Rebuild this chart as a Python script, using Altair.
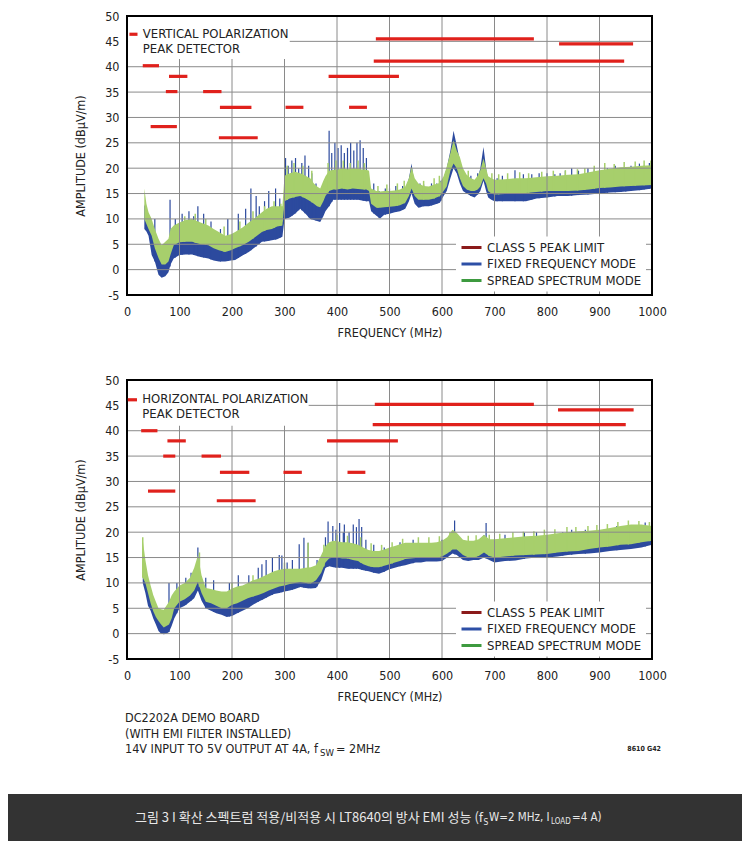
import altair as alt
import pandas as pd
import numpy as np

FONT = "Liberation Sans Narrow, DejaVu Sans Condensed, sans-serif"
KFONT = "Noto Sans CJK KR"
RED = "#e0211c"
BLUE = "#2c4a9e"
GREEN_FILL = "#a7cf6c"
GRID = "#8a8a8a"
TXT = "#222222"

legend_labels = ["CLASS 5 PEAK LIMIT", "FIXED FREQUENCY MODE", "SPREAD SPECTRUM MODE"]
legend_colors = ["#8b1a1a", "#2d4fa6", "#3d9a3f"]

x_domain = [0, 1000]
y_domain = [-5, 50]
x_ticks = list(range(0, 1001, 100))
y_ticks = list(range(-5, 51, 5))

# ---------------- top panel: vertical polarization ----------------
top_freq = [33, 37, 41, 47, 53, 60, 66, 73, 79, 83, 89, 100, 112, 124, 140, 155, 165, 175, 187, 198,
            206, 220, 232, 245, 257, 266, 276, 286, 296, 300, 310, 320, 330, 340, 349, 356, 362, 368,
            374, 378, 385, 393, 400, 410, 420, 430, 440, 450, 456, 461, 465, 475, 482, 490, 500, 510,
            520, 530, 537, 542, 548, 555, 565, 575, 585, 596, 603, 609, 616, 622, 628, 634, 640, 647,
            655, 662, 668, 673, 679, 684, 688, 694, 700, 720, 740, 760, 780, 800, 820, 840, 860, 880,
            900, 920, 940, 960, 980, 1000]
top_green_lo = [10, 9, 8, 6.7, 4.2, 2.3, 1, 1, 1.6, 3, 4.8, 5.4, 5.5, 5.5, 5, 4.8, 4.2, 3.8, 3.5, 3.8,
                4.2, 4.8, 5.5, 6.5, 7.4, 7.8, 8, 8.5, 8.7, 13.5, 14, 14.3, 14.5, 14, 13.5, 13, 12.5, 12.3,
                13.5, 14.5, 15.5, 15.8, 15.8, 16, 15.8, 16, 15.9, 15.8, 15.8, 15.5, 13, 12.2, 12.2, 12.3,
                12.4, 12.5, 12.7, 13.2, 14.5, 16, 14.5, 13.8, 13.8, 13.8, 14, 14.5, 15.5, 16.4, 19.5,
                20.9, 20, 18, 16.5, 15.8, 15.5, 15.5, 15.8, 16.4, 18, 17, 15.5, 15, 14.8, 14.9, 15, 15.1,
                15.3, 15.5, 15.5, 15.5, 15.6, 15.8, 16.1, 16.2, 16.4, 16.5, 16.6, 16.7]
top_green_hi = [16, 13, 11.3, 10, 8, 6.1, 4.8, 5.5, 6.1, 8, 8.7, 9.3, 9.8, 10, 9.3, 8.7, 8, 7.4, 6.7, 7,
                7.4, 8.3, 9.3, 10.3, 11.3, 12, 12.5, 12.5, 12.5, 18.5, 19, 19.3, 19, 18.5, 18, 17, 16.4,
                16, 17.5, 18.4, 19.5, 19.7, 19.7, 20, 19.8, 20, 19.9, 19.7, 19.7, 19.5, 16, 15.5, 15.4,
                15.5, 15.5, 15.6, 15.8, 16.4, 18, 20.3, 18, 17, 16.5, 16.4, 16.8, 17.1, 18.4, 20.3, 23,
                25.5, 23.5, 22.2, 20, 18.7, 18, 17.7, 18.5, 19.6, 21.9, 20, 18.4, 18, 17.7, 17.8, 18, 18,
                18.2, 18.4, 18.5, 18.7, 18.8, 19.2, 19.6, 19.9, 20.2, 20.3, 20.5, 20.6]
top_blue_lo = [8, 7.5, 6.7, 2.9, 1.6, -1, -1.6, -1.3, -0.5, 1, 2.2, 2.9, 3, 3, 2.5, 2.2, 1.8, 1.6, 1.6,
               1.8, 1.9, 2.8, 3.5, 4.5, 5.5, 5.6, 5.8, 6, 6.5, 10, 10.3, 11, 12, 11, 10, 9.8, 9.6, 9.4,
               10.5, 11.5, 12.5, 13.8, 13.8, 13.8, 13.8, 13.8, 13.8, 13.6, 13.5, 13.5, 11.5, 10.6, 10.1,
               10.8, 11, 11.3, 11.5, 12, 13.5, 15, 13, 12.2, 12.5, 12.5, 12.8, 13.2, 14.5, 15.5, 18, 20,
               19, 17, 15.5, 15, 14.5, 14.2, 14.8, 15.5, 17.5, 15.5, 14.2, 13.8, 13.5, 13.5, 13.5, 13.5,
               14, 14.2, 14.5, 14.5, 14.7, 14.8, 15, 15.2, 15.3, 15.5, 15.7, 16]
top_blue_hi = [12.9, 11.5, 10, 8, 6, 3.5, 2.5, 2.5, 3, 7, 7, 8, 8.5, 8.5, 8, 7.5, 6, 5, 4.5, 4.8, 5, 6,
               6.7, 7.5, 8, 8.8, 9.3, 9.3, 9.5, 16, 16.3, 16.5, 17, 16, 15, 14, 13.7, 13.3, 14.5, 15.5,
               17, 17.7, 17.7, 17.7, 17.7, 17.7, 17.7, 17.5, 17.2, 17, 14.5, 14.5, 14.3, 14.5, 14.6,
               14.8, 15, 15.5, 18, 20.9, 16.5, 15.5, 15.8, 15.8, 16, 16.5, 18, 20, 23.5, 27.4, 24.5,
               21.5, 19, 18.2, 17.5, 17, 18, 20, 24.2, 20, 17.5, 17, 17, 17.3, 17.5, 17.5, 17.8, 18,
               18.2, 18.4, 18.5, 18.8, 19, 19.3, 19.6, 19.8, 20, 20]
top_spike_freq = [53, 82, 92, 105, 118, 127, 135, 146, 160, 178, 192, 212, 226, 236, 246, 252, 262, 270,
                  283, 291, 302, 307, 314, 321, 327, 333, 339, 346, 352, 360, 385, 390, 396, 402, 408,
                  414, 420, 426, 432, 438, 444, 450, 456, 470, 480, 492, 500, 512, 525, 558, 565, 580,
                  590, 598, 655, 668, 705, 715, 739, 755, 771, 785, 800, 815, 825, 835, 847, 860, 878,
                  890, 903, 915, 930, 941, 950, 960, 976, 985, 995]
top_spike_top = [10, 13.8, 10, 11, 11.5, 10.5, 12.5, 11, 9.5, 8, 10, 11, 12, 16, 14.5, 12.5, 13.5, 15.5,
                 16, 14, 22, 20.5, 21.5, 22, 20, 21, 22.5, 20.5, 19, 17, 27.4, 23, 25, 24, 24.5, 23, 24,
                 25, 23.5, 25, 25.5, 24, 22, 17, 15.5, 16, 16, 16.5, 16.5, 17, 16.8, 17, 17, 17.5, 18.5,
                 19, 18, 18.5, 19.6, 18.8, 18.8, 19, 19, 18.8, 19, 19.5, 20, 19.5, 20, 19.8, 19.5, 20,
                 20.5, 20, 20, 20.5, 20.9, 20.5, 21]
top_gspike_freq = [110, 130, 150, 185, 215, 240, 262, 280, 293, 305, 318, 335, 352, 383, 398, 412, 425,
                   440, 452, 478, 495, 515, 528, 565, 585, 595, 650, 695, 708, 725, 748, 765, 790, 812,
                   835, 858, 872, 890, 910, 928, 947, 968, 985, 998]
top_gspike_top = [10.5, 11, 10, 8.5, 9.5, 11.5, 12.5, 13.5, 13, 20.5, 21, 20.5, 19.5, 21, 21.5, 21.5,
                  21, 21.5, 21, 16.5, 16.8, 17, 17.5, 17.5, 18, 18.5, 19.5, 19, 18.8, 19, 19.2, 19,
                  19.3, 19.5, 19.6, 19.8, 20, 20.5, 21, 20.8, 21.2, 21.3, 21.5, 21.5]
top_limit_lo = [30, 74, 80, 145, 177, 302, 423, 384, 45, 175, 470, 474, 823]
top_limit_hi = [61, 96, 115, 180, 237, 336, 457, 518, 95, 249, 947, 775, 964]
top_limit_db = [40.2, 35.1, 38.1, 35.1, 32, 32, 32, 38.1, 28.2, 26, 41.1, 45.5, 44.5]
top_note = ["VERTICAL POLARIZATION", "PEAK DETECTOR"]
top_note_x = [30, 30]
top_note_db = [46.4, 43.4]
top_dash = {"lo": [4.6], "hi": [20], "db": [46.4]}
top_box = {"lo": [2], "hi": [310], "db": [41.5], "db2": [49.8]}

# ---------------- bottom panel: horizontal polarization ----------------
bot_freq = [30, 35, 40, 45, 50, 55, 60, 65, 70, 75, 80, 85, 90, 100, 110, 120, 128, 135, 142, 150, 160,
            170, 180, 190, 200, 210, 220, 230, 240, 250, 260, 270, 280, 290, 300, 310, 320, 330, 340, 350,
            360, 370, 378, 385, 393, 400, 410, 420, 430, 440, 450, 460, 470, 480, 490, 500, 510, 520, 530,
            540, 550, 560, 570, 580, 590, 600, 610, 620, 628, 640, 650, 660, 670, 680, 690, 700, 720, 740,
            760, 780, 800, 820, 840, 860, 880, 900, 920, 940, 960, 980, 1000]
bot_green_lo = [11, 10, 8, 6, 4.4, 3.3, 2.5, 1.8, 1.2, 1.5, 1.8, 3, 5, 6.3, 6.8, 7.5, 8.5, 10.2, 8, 6.3, 6,
                5.5, 5, 5, 5.7, 6, 6.5, 7, 7.3, 7.6, 8, 8.5, 8.9, 9.3, 9.5, 9.8, 10, 10.2, 10, 9.9, 10.5,
                12, 14, 14.8, 15, 15, 14.8, 14.8, 14.5, 14.3, 13.7, 13.3, 13.1, 13.1, 13.4, 13.7, 14,
                14.3, 14.7, 14.8, 14.9, 15, 15, 15, 15, 15.2, 15.8, 16.6, 16.6, 15.5, 15, 15, 15.3, 16,
                15.3, 15, 15.2, 15.4, 15.5, 15.6, 15.7, 16, 16.2, 16.3, 16.7, 17, 17.2, 17.5, 17.6, 18,
                18.3]
bot_green_hi = [18.5, 14.5, 11.5, 9.5, 7.6, 6.3, 5, 4.8, 4.7, 5.5, 6.3, 7.5, 8.3, 9.5, 10, 11, 13, 15.4,
                11.5, 9, 8.8, 8.5, 8.3, 8.3, 8.9, 9.3, 9.5, 10, 10.5, 10.8, 11.3, 11.8, 12.3, 12.6, 12.8,
                12.8, 12.8, 12.8, 13, 13.1, 13.5, 15.5, 17.3, 18, 18.3, 18.2, 18, 18, 17.8, 17.5, 17,
                16.5, 16.3, 16.3, 16.6, 17, 17.3, 17.6, 17.9, 17.9, 17.9, 17.9, 17.9, 17.9, 18, 18.3, 19,
                20.5, 19.9, 18.5, 18.3, 18.3, 18.6, 19.5, 18.6, 18.6, 18.8, 19, 19.2, 19.3, 19.5, 19.8,
                20, 20.2, 20.3, 20.5, 20.8, 21.2, 21.5, 21.5, 21.2]
bot_blue_lo = [10, 8, 5.5, 4.5, 3, 1.8, 0.5, 0, -0.1, 0, 0.3, 1.5, 3, 5, 5.5, 6.3, 7, 8.5, 6.5, 5, 4.5, 4,
               3.7, 3.3, 3.5, 4, 4.5, 5, 5.7, 6.3, 6.8, 7.3, 7.8, 8, 8.3, 8.5, 8.8, 9.2, 9, 8.9, 9, 10.5,
               13, 13.3, 13.1, 13, 13, 12.8, 12.8, 12.8, 12.5, 12.3, 12, 11.8, 12.2, 12.7, 13, 13.3,
               13.5, 13.8, 14, 14, 14.2, 14.2, 14.2, 14.3, 15, 15.8, 15.5, 14.5, 14.3, 14.5, 14.5, 15,
               14.5, 14, 14.3, 14.4, 14.8, 15, 15, 15.2, 15.5, 15.7, 15.8, 16, 16.3, 16.5, 16.7, 17, 17.5]
bot_blue_hi = [16, 13.5, 9.5, 7.5, 6, 5, 3.7, 3.3, 3.1, 4, 5.5, 6.5, 7.5, 9, 9.5, 10.5, 12, 14, 10.5, 8.5,
               8, 7.5, 6.6, 7, 7, 7.5, 8, 8.5, 8.8, 8.9, 9.3, 9.8, 10.3, 10.5, 10.8, 11, 11.3, 11.5, 11.5,
               11.5, 12, 14, 16, 16.3, 16.3, 16.3, 16, 15.7, 15.7, 15.7, 15.5, 15, 14.7, 14.7, 15.2,
               15.7, 16, 16.3, 16.5, 16.8, 17, 17, 17.2, 17.2, 17.3, 17.5, 18.5, 20, 19, 17.8, 17.5,
               17.5, 18, 19.5, 18, 18, 18.3, 18.5, 18.8, 19, 19.2, 19.5, 19.7, 20, 20, 20.2, 20.5, 20.8,
               21, 21.3, 21]
bot_spike_freq = [80, 95, 112, 122, 135, 150, 165, 195, 212, 232, 250, 257, 265, 277, 290, 295, 305, 315,
                  328, 337, 345, 362, 378, 383, 392, 398, 405, 412, 414, 423, 431, 437, 442, 447, 455,
                  470, 490, 520, 545, 600, 624, 684, 720, 757, 780, 830, 847, 873, 933, 958, 987]
bot_spike_top = [10, 10, 11, 12, 17, 11, 10.5, 10, 11.5, 11.5, 13, 13.7, 14.5, 15, 15.5, 15.4, 14, 14.5,
                 17.6, 18.9, 17.9, 14.5, 19, 22.1, 21.2, 20.5, 21.8, 20, 21.5, 20, 21.5, 21, 22.6, 21,
                 18.5, 17.5, 17, 18, 18.5, 18.5, 22.3, 21.8, 19.5, 19.9, 20, 20, 20.5, 20.5, 21.2, 21.3,
                 21.9]
bot_gspike_freq = [30, 138, 200, 240, 300, 345, 375, 400, 420, 445, 465, 485, 505, 525, 555, 575, 595,
                   615, 650, 665, 690, 710, 735, 755, 775, 795, 815, 838, 855, 878, 895, 915, 935, 955,
                   975, 995]
bot_gspike_top = [19, 16, 10, 11.5, 14, 17.9, 17.5, 19.5, 19.3, 19, 17.8, 17.5, 18, 18.7, 19, 19, 19.2,
                  20, 19.3, 19.4, 19.5, 19.7, 20, 20.1, 20.2, 20.5, 20.6, 21, 21, 21.2, 21.4, 21.6, 22,
                  22.3, 22.2, 22]
bot_limit_lo = [27, 69, 77, 142, 177, 298, 420, 381, 40, 171, 468, 472, 821]
bot_limit_hi = [58, 92, 112, 179, 233, 333, 454, 516, 92, 245, 950, 775, 965]
bot_limit_db = [40, 35, 38, 35, 31.8, 31.8, 31.8, 38, 28.1, 26.2, 41.2, 45.2, 44.1]
bot_note = ["HORIZONTAL POLARIZATION", "PEAK DETECTOR"]
bot_note_x = [29, 29]
bot_note_db = [46.2, 43.2]
bot_dash = {"lo": [1.5], "hi": [19], "db": [46.1]}
bot_box = {"lo": [2], "hi": [346], "db": [41], "db2": [49.8]}

# ---------------- footer texts ----------------
board_notes = ["DC2202A DEMO BOARD", "(WITH EMI FILTER INSTALLED)"]
cond_main = "14V INPUT TO 5V OUTPUT AT 4A, f"
cond_sub = "SW"
cond_tail = "= 2MHz"
fig_code = "8610 G42"
cap_main = "그림 3 I 확산 스펙트럼 적용/비적용 시 LT8640의 방사 EMI 성능 (f"
cap_sub1 = "S"
cap_mid = "W=2 MHz, I"
cap_sub2 = "LOAD"
cap_tail = "=4 A)"

XS = alt.Scale(domain=x_domain, nice=False, zero=False)
YS = alt.Scale(domain=y_domain, nice=False, zero=False)

X_AXIS = alt.Axis(values=x_ticks, title="FREQUENCY (MHz)", grid=False, domain=False, ticks=False,
                  labelPadding=10, labelFont=FONT, labelFontSize=12.5, labelColor=TXT, labelFlush=False,
                  titleFont=FONT, titleFontSize=12.5, titleFontWeight="normal", titleColor=TXT,
                  titlePadding=9, labelExpr="'' + datum.value")
Y_AXIS = alt.Axis(values=y_ticks, title="AMPLITUDE (dBµV/m)", grid=False, domain=False, ticks=False,
                  labelPadding=8, labelFont=FONT, labelFontSize=12.5, labelColor=TXT, labelFlush=False,
                  titleFont=FONT, titleFontSize=12.5, titleFontWeight="normal", titleColor=TXT,
                  titlePadding=17, labelExpr="'' + datum.value")


def X(field):
    return alt.X(field, scale=XS, axis=X_AXIS, title="FREQUENCY (MHz)")


def Y(field):
    return alt.Y(field, scale=YS, axis=Y_AXIS, title="AMPLITUDE (dBµV/m)")


def panel(freq, glo, ghi, blo, bhi, sp_f, sp_top, gs_f, gs_top, lim_lo, lim_hi, lim_db,
          note, note_x, note_db, dash, box, legend_y):
    band = pd.DataFrame({"f": freq, "glo": glo, "ghi": ghi, "blo": blo, "bhi": bhi})
    spikes = pd.DataFrame({"f": sp_f, "top": sp_top, "base": np.interp(sp_f, freq, blo)})
    gspikes = pd.DataFrame({"f": gs_f, "top": gs_top, "base": np.interp(gs_f, freq, glo)})
    lim = pd.DataFrame({"lo": lim_lo, "hi": lim_hi, "db": lim_db})
    notes = pd.DataFrame({"t": note, "x": note_x, "db": note_db})
    dash_df = pd.DataFrame(dash)
    box_df = pd.DataFrame(box)
    vgrid = pd.DataFrame({"x": x_ticks, "y0": y_domain[0], "y1": y_domain[1]})
    hgrid = pd.DataFrame({"y": y_ticks, "x0": x_domain[0], "x1": x_domain[1]})
    vframe = pd.DataFrame({"x": x_domain, "y0": y_domain[0], "y1": y_domain[1]})
    hframe = pd.DataFrame({"y": y_domain, "x0": x_domain[0], "x1": x_domain[1]})
    leg = pd.DataFrame({"series": legend_labels, "f": [500] * 3, "v": [0] * 3})

    blue = alt.Chart(band).mark_area(color=BLUE, opacity=1, interpolate="linear").encode(
        x=X("f:Q"), y=Y("blo:Q"), y2="bhi:Q")
    spk = alt.Chart(spikes).mark_rule(color=BLUE, strokeWidth=1.2).encode(
        x=X("f:Q"), y=Y("base:Q"), y2="top:Q")
    green = alt.Chart(band).mark_area(color=GREEN_FILL, opacity=1, interpolate="linear").encode(
        x=X("f:Q"), y=Y("glo:Q"), y2="ghi:Q")
    gspk = alt.Chart(gspikes).mark_rule(color=GREEN_FILL, strokeWidth=1.5).encode(
        x=X("f:Q"), y=Y("base:Q"), y2="top:Q")
    vg = alt.Chart(vgrid).mark_rule(color=GRID, strokeWidth=1).encode(
        x=X("x:Q"), y=Y("y0:Q"), y2="y1:Q")
    hg = alt.Chart(hgrid).mark_rule(color=GRID, strokeWidth=1).encode(
        y=Y("y:Q"), x=X("x0:Q"), x2="x1:Q")
    box_l = alt.Chart(box_df).mark_rect(color="white").encode(
        x=X("lo:Q"), x2="hi:Q", y=Y("db:Q"), y2="db2:Q")
    vf = alt.Chart(vframe).mark_rule(color="black", strokeWidth=2).encode(
        x=X("x:Q"), y=Y("y0:Q"), y2="y1:Q")
    hf = alt.Chart(hframe).mark_rule(color="black", strokeWidth=2, strokeCap="square").encode(
        y=Y("y:Q"), x=X("x0:Q"), x2="x1:Q")
    limits = alt.Chart(lim).mark_rule(color=RED, strokeWidth=3.2, strokeCap="butt").encode(
        x=X("lo:Q"), x2="hi:Q", y=Y("db:Q"))
    dash_l = alt.Chart(dash_df).mark_rule(color=RED, strokeWidth=3.2, strokeCap="butt").encode(
        x=X("lo:Q"), x2="hi:Q", y=Y("db:Q"))
    text_l = alt.Chart(notes).mark_text(align="left", baseline="middle", font=FONT, fontSize=13,
                                        color=TXT).encode(x=X("x:Q"), y=Y("db:Q"), text="t:N")
    leg_l = alt.Chart(leg).mark_line(opacity=0).encode(
        x=X("f:Q"), y=Y("v:Q"),
        color=alt.Color("series:N", scale=alt.Scale(domain=legend_labels, range=legend_colors),
                        legend=alt.Legend(orient="none", legendX=329, legendY=legend_y, title=None,
                                          symbolType="stroke", symbolSize=400, symbolStrokeWidth=3,
                                          symbolOpacity=1, labelFont=FONT, labelFontSize=13,
                                          labelColor=TXT, labelOffset=4, rowPadding=2.5,
                                          clipHeight=14, padding=4, fillColor="white",
                                          labelLimit=300)))
    return alt.layer(blue, spk, green, gspk, vg, hg, box_l, vf, hf, limits, dash_l, text_l,
                     leg_l).properties(width=525, height=279)


top = panel(top_freq, top_green_lo, top_green_hi, top_blue_lo, top_blue_hi, top_spike_freq,
            top_spike_top, top_gspike_freq, top_gspike_top, top_limit_lo, top_limit_hi, top_limit_db,
            top_note, top_note_x, top_note_db, top_dash, top_box, 220.5)
bottom = panel(bot_freq, bot_green_lo, bot_green_hi, bot_blue_lo, bot_blue_hi, bot_spike_freq,
               bot_spike_top, bot_gspike_freq, bot_gspike_top, bot_limit_lo, bot_limit_hi, bot_limit_db,
               bot_note, bot_note_x, bot_note_db, bot_dash, bot_box, 221.5)


def txt(s, x, y, size, color=TXT, font=FONT, align="left", weight="normal"):
    return alt.Chart(pd.DataFrame({"t": [s]})).mark_text(
        align=align, baseline="middle", font=font, fontSize=size, color=color,
        fontWeight=weight).encode(x=alt.value(x), y=alt.value(y), text="t:N")


band_bar = alt.Chart(pd.DataFrame({"t": [cap_main]})).mark_rect(color="#333333").encode(
    x=alt.value(-119), x2=alt.value(615), y=alt.value(50), y2=alt.value(97))

CAP = "#e8e8e8"
footer = alt.layer(
    band_bar,
    txt(board_notes[0], -2, -26, 12.5),
    txt(board_notes[1], -2, -10, 12.5),
    txt(cond_main, -2, 5, 12.5),
    txt(cond_sub, 193, 9, 9.5),
    txt(cond_tail, 209, 5, 12.5),
    txt(fig_code, 534, 5, 7, align="right", weight="bold"),
    txt(cap_main, 356, 74, 13, color=CAP, font=KFONT, align="right"),
    txt(cap_sub1, 356.5, 77.5, 8.5, color=CAP),
    txt(cap_mid, 362, 74, 11.5, color=CAP),
    txt(cap_sub2, 424, 77.5, 8, color=CAP),
    txt(cap_tail, 445, 74, 11.5, color=CAP),
).properties(width=525, height=97, view=alt.ViewBackground(strokeOpacity=0))

chart = alt.vconcat(top, bottom, footer, spacing=85, bounds="flush").resolve_scale(
    color="independent").resolve_legend(color="independent").properties(
    padding={"left": 0, "top": 2, "right": 0, "bottom": 0}, background="white"
).configure_view(strokeOpacity=0)

chart.save("out.html", embed_options={"renderer": "svg", "actions": False})
